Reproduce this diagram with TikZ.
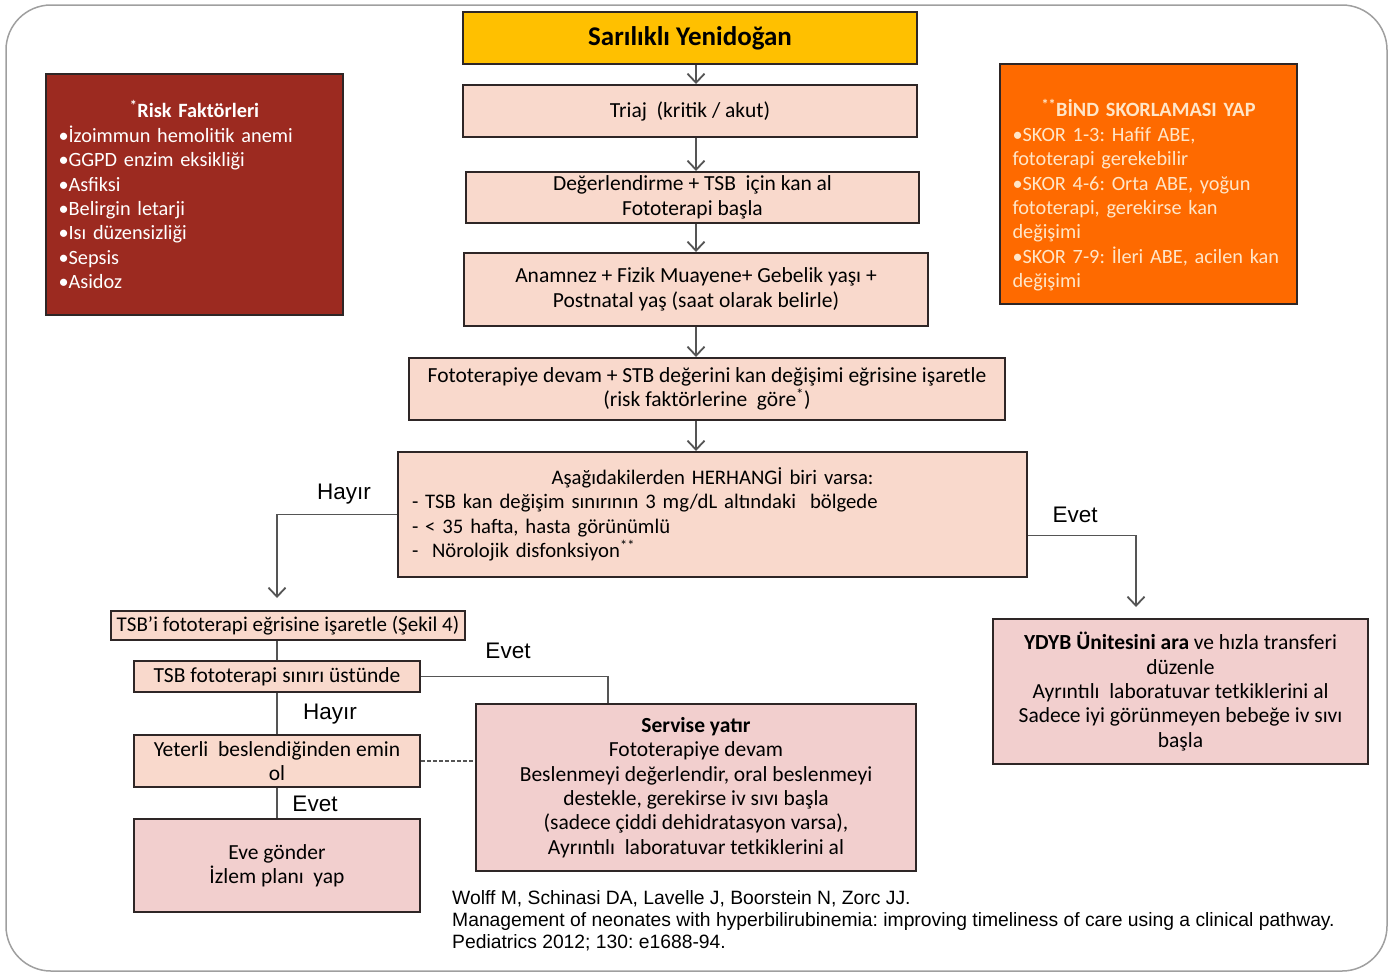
\documentclass[tikz,border=0pt]{standalone}
\usepackage{fontspec}
\setmainfont{Carlito}
\newfontfamily\arialfont{Liberation Sans}
\newfontfamily\citefont{Liberation Sans}
\usepackage{tikz}
\usetikzlibrary{arrows.meta}
\frenchspacing

\definecolor{goldbox}{HTML}{FFC000}
\definecolor{peachbox}{HTML}{F9D9CC}
\definecolor{pinkbox}{HTML}{F2CFCE}
\definecolor{riskred}{HTML}{9C2A20}
\definecolor{bindorange}{HTML}{FE6A00}
\definecolor{bindtext}{HTML}{FFE6C8}
\definecolor{boxline}{HTML}{2E2626}
\definecolor{connline}{HTML}{555555}

\begin{document}
\begin{tikzpicture}[x=1pt, y=-1pt, >={Straight Barb[length=9pt,width=17pt]},
    box/.style={draw=boxline, line width=2pt, inner sep=0pt, align=center,
                font=\fontsize{21.5}{24.4}\selectfont},
    peach/.style={box, fill=peachbox},
    pink/.style={box, fill=pinkbox},
    side/.style={box, minimum width=297pt, text width=272pt, align=left,
                 font=\fontsize{20.3}{24.4}\selectfont},
    conn/.style={draw=connline, line width=1.8pt},
    answer/.style={font=\arialfont\fontsize{22.5}{26}\selectfont}]

    \useasboundingbox (0,0) rectangle (1394,975);

    % --- 1. Slide frame ---
    \draw[gray!75, line width=1.5pt, rounded corners=45pt] (6,5) rectangle (1387,971);

    % Main column of the pathway
    \coordinate (axis) at (696,0);

    % --- 2. Top boxes ---
    \node[box, fill=goldbox, minimum width=454pt, minimum height=52pt,
          font=\fontsize{27}{30}\selectfont\bfseries] (sarilik) at (690,38) {Sarılıklı Yenidoğan};
    \node[peach, minimum width=454pt, minimum height=52pt] (triaj) at (690,111)
        {Triaj\ \ (kritik / akut)};
    \node[peach, minimum width=453pt, minimum height=51pt] (degerlendirme) at (692.5,197.5)
        {Değerlendirme + TSB\ \ için kan al\\Fototerapi başla};
    \node[peach, minimum width=464pt, minimum height=73pt] (anamnez) at (696,289.5)
        {Anamnez + Fizik Muayene+ Gebelik yaşı +\\Postnatal yaş (saat olarak belirle)};
    \node[peach, minimum width=596pt, minimum height=62pt] (devam) at (707,389)
        {Fototerapiye devam + STB değerini kan değişimi eğrisine işaretle\\(risk faktörlerine\ \ göre\textsuperscript{*})};
    \node[peach, minimum width=629pt, minimum height=125pt, text width=601pt,
          align=left, font=\fontsize{20.7}{24.4}\selectfont] (herhangi) at (712.5,514.5)
        {\makebox[\linewidth]{Aşağıdakilerden HERHANGİ biri varsa:}\\
         - TSB kan değişim sınırının 3 mg/dL altındaki\ \ bölgede\\
         - < 35 hafta, hasta görünümlü\\
         -\ \ Nörolojik disfonksiyon\textsuperscript{**}};

    \foreach \a/\b in {sarilik/triaj, triaj/degerlendirme, degerlendirme/anamnez,
                       anamnez/devam, devam/herhangi}
        \draw[conn, ->] (\a.south -| axis) -- (\b.north -| axis);

    % --- 3. Side boxes ---
    \node[side, fill=riskred, text=white, minimum height=241pt] (riskf) at (194.5,194.5)
        {\makebox[\linewidth]{\bfseries\textsuperscript{*}Risk Faktörleri}\\
         •İzoimmun hemolitik anemi\\
         •GGPD enzim eksikliği\\
         •Asfiksi\\
         •Belirgin letarji\\
         •Isı düzensizliği\\
         •Sepsis\\
         •Asidoz};
    \node[side, fill=bindorange, text=bindtext, minimum height=240pt] (bind) at (1148.5,184)
        {\makebox[\linewidth]{\rule{0pt}{40pt}\bfseries\textsuperscript{**}BİND SKORLAMASI YAP}\\
         •SKOR 1-3: Hafif ABE,\\
         fototerapi gerekebilir\\
         •SKOR 4-6: Orta ABE, yoğun\\
         fototerapi, gerekirse kan\\
         değişimi\\
         •SKOR 7-9: İleri ABE, acilen kan\\
         değişimi};

    % --- 4. Left branch (Hayır) ---
    \node[peach, minimum width=354pt, minimum height=29pt,
          font=\fontsize{21}{24.4}\selectfont] (isaretle) at (288,625.5)
        {TSB’i fototerapi eğrisine işaretle (Şekil 4)};
    \node[peach, minimum width=286pt, minimum height=31pt] (sinir) at (277,676.5)
        {TSB fototerapi sınırı üstünde};
    \node[peach, minimum width=286pt, minimum height=52pt] (yeterli) at (277,761)
        {Yeterli\ \ beslendiğinden emin\\ol};
    \node[pink, minimum width=286pt, minimum height=93pt] (eve) at (277,865.5)
        {Eve gönder\\İzlem planı\ \ yap};
    \node[pink, minimum width=440pt, minimum height=167pt] (servis) at (696,787.5)
        {\textbf{Servise yatır}\\Fototerapiye devam\\Beslenmeyi değerlendir, oral beslenmeyi\\
         destekle, gerekirse iv sıvı başla\\(sadece çiddi dehidratasyon varsa),\\
         Ayrıntılı\ \ laboratuvar tetkiklerini al};

    \coordinate (hayirend) at (277,598);
    \draw[conn, ->] (herhangi.west) -| (hayirend);
    \draw[conn] (isaretle.south -| sinir.north) -- (sinir.north);
    \draw[conn] (sinir.south) -- (yeterli.north);
    \draw[conn] (yeterli.south) -- (eve.north);
    \draw[conn] (sinir.east) -| ([xshift=-88pt]servis.north);
    \draw[conn, line width=1.4pt, dash pattern=on 4pt off 2pt]
        (yeterli.east) -- (yeterli.east -| servis.west);

    % --- 5. Right branch (Evet) ---
    \node[pink, minimum width=375pt, minimum height=145pt] (ydyb) at (1180.5,691.5)
        {\textbf{YDYB Ünitesini ara} ve hızla transferi\\düzenle\\
         Ayrıntılı\ \ laboratuvar tetkiklerini al\\Sadece iyi görünmeyen bebeğe iv sıvı\\başla};
    \coordinate (evetend) at (1136,607);
    \draw[conn, ->] ([yshift=-21pt]herhangi.east) -| (evetend);

    % --- 6. Answer labels ---
    \node[answer] (hayir1) at (344,494) {Hayır};
    \node[answer] (evet1) at (1075,515) {Evet};
    \node[answer] (evet2) at (508,651) {Evet};
    \node[answer] (hayir2) at (330,714) {Hayır};
    \node[answer] (evet3) at (315,804) {Evet};

    % --- 7. Reference ---
    \node[anchor=north west, align=left, inner sep=0pt,
          font=\citefont\fontsize{19.3}{22}\selectfont] (kaynak) at (452,890)
        {Wolff M, Schinasi DA, Lavelle J, Boorstein N, Zorc JJ.\\
         Management of neonates with hyperbilirubinemia: improving timeliness of care using a clinical pathway.\\
         Pediatrics 2012; 130: e1688-94.};

\end{tikzpicture}
\end{document}
